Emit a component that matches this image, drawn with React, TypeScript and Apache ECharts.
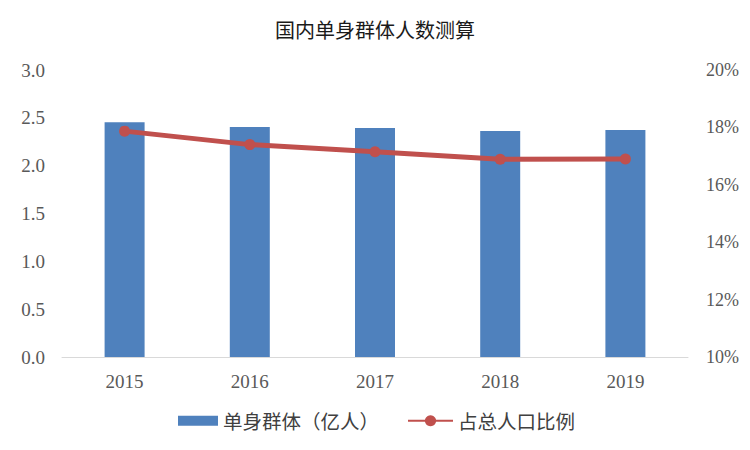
import React, { useEffect, useRef } from "react";
import * as echarts from "echarts";

const years = ["2015", "2016", "2017", "2018", "2019"];
const singles = [2.455, 2.403, 2.393, 2.362, 2.372];
const ratio = [17.87, 17.4, 17.15, 16.89, 16.9];
const barName = "单身群体（亿人）";
const lineName = "占总人口比例";

export default function App() {
  const ref = useRef<HTMLDivElement>(null);
  useEffect(() => {
    const chart = echarts.init(ref.current!, null, { renderer: "svg" });
    const labelFont = "'Liberation Serif', 'Noto Sans CJK SC', serif";
    const cjkFont = "'Noto Sans CJK SC', sans-serif";
    const legendText = { fontSize: 19.5, color: "#404040", fontFamily: cjkFont };
    chart.setOption({
      animation: false,
      backgroundColor: "#ffffff",
      title: {
        text: "国内单身群体人数测算",
        left: "center",
        top: 14,
        textStyle: { fontSize: 20, fontWeight: "normal", color: "#1a1a1a", fontFamily: cjkFont },
      },
      grid: { left: 62, right: 62, top: 70, bottom: 93 },
      legend: [
        {
          top: 406,
          left: 173,
          itemWidth: 40,
          itemHeight: 10,
          textStyle: legendText,
          data: [{ name: barName, icon: "rect" }],
        },
        {
          top: 406,
          left: 402,
          itemWidth: 45,
          itemHeight: 14,
          textStyle: legendText,
          data: [{ name: lineName }],
        },
      ],
      xAxis: {
        type: "category",
        data: years,
        axisLine: { lineStyle: { color: "#D9D9D9", width: 1 } },
        axisTick: { show: false },
        axisLabel: { fontSize: 19, color: "#595959", margin: 15, fontFamily: labelFont },
      },
      yAxis: [
        {
          type: "value",
          min: 0,
          max: 3,
          interval: 0.5,
          axisLine: { show: false },
          axisTick: { show: false },
          splitLine: { show: false },
          axisLabel: {
            fontSize: 19,
            color: "#595959",
            margin: 17,
            fontFamily: labelFont,
            formatter: (v: number) => v.toFixed(1),
          },
        },
        {
          type: "value",
          min: 10,
          max: 20,
          interval: 2,
          axisLine: { show: false },
          axisTick: { show: false },
          splitLine: { show: false },
          axisLabel: {
            fontSize: 18,
            color: "#595959",
            margin: 18,
            fontFamily: labelFont,
            formatter: "{value}%",
          },
        },
      ],
      series: [
        {
          name: barName,
          type: "bar",
          data: singles,
          barWidth: 40,
          itemStyle: { color: "#4F81BD" },
        },
        {
          name: lineName,
          type: "line",
          yAxisIndex: 1,
          data: ratio,
          symbol: "circle",
          symbolSize: 11,
          lineStyle: { color: "#C0504D", width: 5 },
          itemStyle: { color: "#C0504D" },
        },
      ],
    });
    return () => chart.dispose();
  }, []);
  return <div ref={ref} style={{ width: 750, height: 450, margin: -8 }} />;
}
